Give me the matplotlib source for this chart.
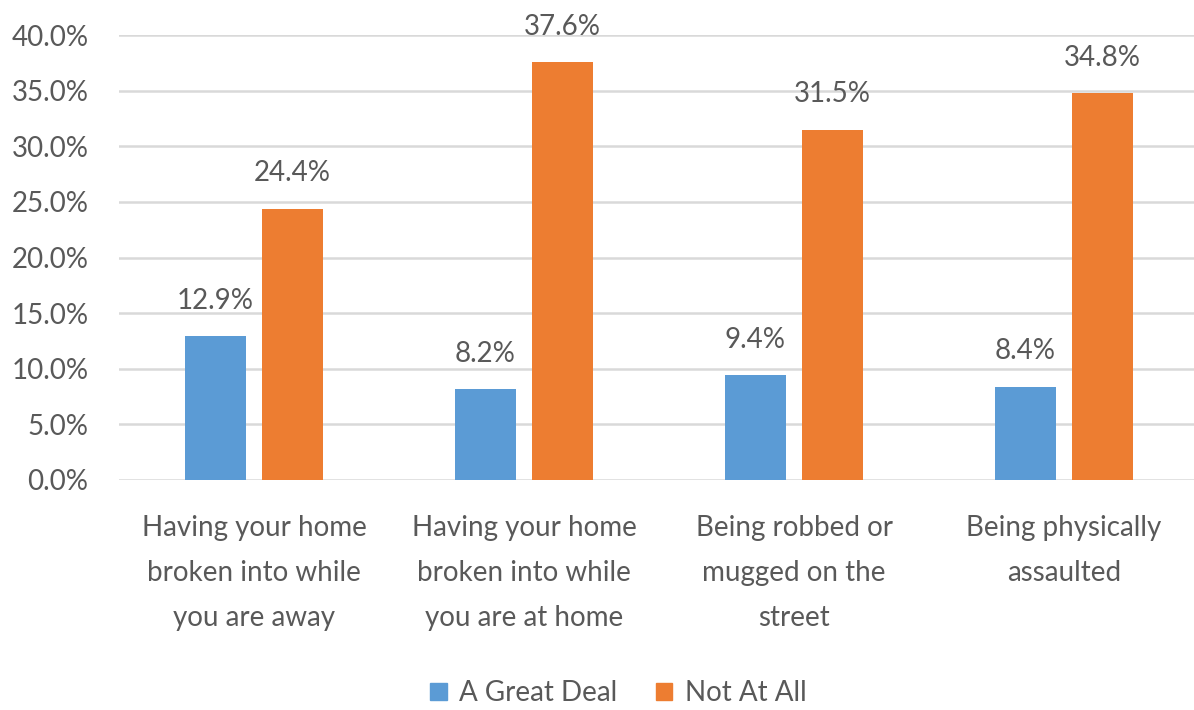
import numpy as np
import matplotlib.pyplot as plt
from matplotlib.patches import Patch

# Chart data
categories = ['Having your home\nbroken into while\nyou are away',
              'Having your home\nbroken into while\nyou are at home',
              'Being robbed or\nmugged on the\nstreet',
              'Being physically\nassaulted']
great_deal = [12.9, 8.2, 9.4, 8.4]
not_at_all = [24.4, 37.6, 31.5, 34.8]
series_names = ['A Great Deal', 'Not At All']

# Style
BLUE = '#5B9BD5'
ORANGE = '#ED7D31'
TEXT = '#595959'
GRID = '#D9D9D9'
FONT = ['Lato', 'DejaVu Sans']
plt.rcParams['font.family'] = FONT
FS = 20

fig = plt.figure(figsize=(11.94, 7.10), dpi=100)
ax = fig.add_axes([119/1194, 1 - 480/710, 1 - 119/1194, (480 - 35)/710])

x = np.arange(len(categories))
bw = 0.226
off = 0.1426
b1 = ax.bar(x - off, great_deal, bw, color=BLUE, zorder=3)
b2 = ax.bar(x + off, not_at_all, bw, color=ORANGE, zorder=3)

# Value labels above each bar
for bars, vals in [(b1, great_deal), (b2, not_at_all)]:
    for rect, v in zip(bars, vals):
        ax.annotate(f'{v:.1f}%', (rect.get_x() + rect.get_width()/2, v),
                    xytext=(0, 19.5), textcoords='offset points',
                    ha='center', va='baseline', fontsize=FS, color=TEXT)

ax.set_ylim(0, 40)
ax.set_xlim(-0.5, (1194 - 254)/270)
ax.set_yticks(np.arange(0, 41, 5))
ax.set_yticklabels([f'{t:.1f}%' for t in np.arange(0, 41, 5)])
ax.set_xticks(x)
ax.set_xticklabels(categories, linespacing=1.9)

ax.tick_params(axis='y', length=0, pad=22, labelsize=FS, labelcolor=TEXT)
ax.tick_params(axis='x', length=0, pad=25, labelsize=FS, labelcolor=TEXT)
ax.yaxis.grid(True, color=GRID, linewidth=1.8, zorder=0)
ax.set_axisbelow(True)
for s in ax.spines.values():
    s.set_visible(False)

# Legend at the bottom
handles = [Patch(color=BLUE), Patch(color=ORANGE)]
fig.legend(handles, series_names, loc='center', bbox_to_anchor=(0.518, 0.024),
           ncol=2, frameon=False, fontsize=FS, labelcolor=TEXT,
           handlelength=0.58, handleheight=0.58, handletextpad=0.45,
           columnspacing=1.4)

fig.savefig('out.png', dpi=100)
